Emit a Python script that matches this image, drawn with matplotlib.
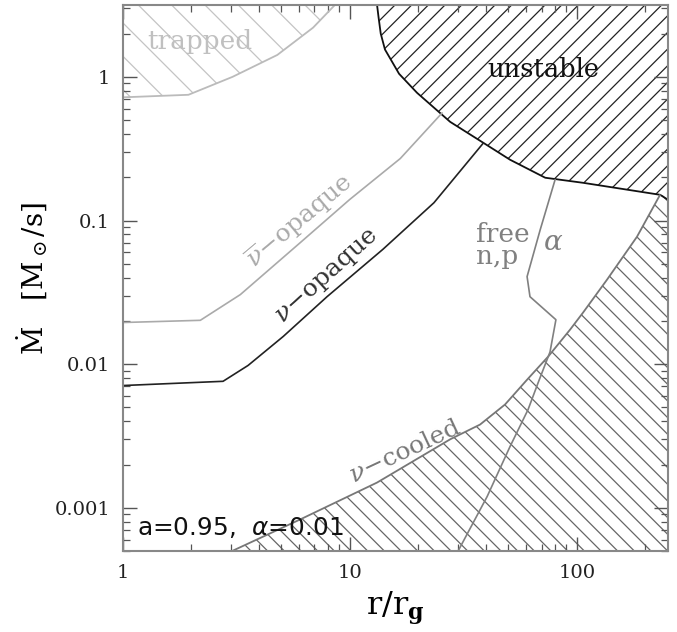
import numpy as np
import matplotlib.pyplot as plt
from matplotlib.ticker import LogLocator, NullFormatter, FixedLocator, FixedFormatter

plt.rcParams['font.family'] = 'DejaVu Serif'
plt.rcParams['mathtext.fontset'] = 'dejavuserif'
plt.rcParams['hatch.linewidth'] = 0.9

# Plot limits
rmin, rmax = 1.0, 252.0
mmin, mmax = 5.0e-4, 3.16

# Region boundaries, r/r_g versus accretion rate (Msun/s)
trap_r = [1.0, 1.95, 3.05, 4.8, 6.9, 8.6]
trap_mdot = [0.72, 0.75, 1.0, 1.42, 2.2, 3.16]

nubar_r = [1.0, 2.2, 3.3, 6.05, 10.0, 16.7, 25.5]
nubar_mdot = [0.0195, 0.0202, 0.0305, 0.070, 0.14, 0.27, 0.56]

nu_r = [1.0, 2.77, 3.57, 5.1, 7.95, 14.0, 23.5, 38.7]
nu_mdot = [0.0071, 0.0076, 0.0098, 0.0156, 0.0295, 0.063, 0.133, 0.345]

unst_r = [13.2, 13.4, 13.7, 14.3, 16.5, 19.8, 27.7, 38.7, 50.8, 72.6, 106.6, 232.7, 252.0]
unst_mdot = [3.16, 2.6, 2.0, 1.55, 1.05, 0.774, 0.486, 0.348, 0.265, 0.1985, 0.183, 0.151, 0.1395]

alpha_r = [80.2, 69.0, 60.4, 62.2, 80.9, 76.2, 67.6, 61.0, 50.8, 40.3, 30.0]
alpha_mdot = [0.192, 0.0863, 0.0407, 0.0295, 0.0204, 0.01216, 0.00745,
              0.00483, 0.00267, 0.0012, 5.0e-4]

cool_r = [3.03, 6.05, 13.2, 27.7, 37.5, 48.3, 60.4, 74.8, 93.4, 106.6, 135.9, 184.0, 232.0]
cool_mdot = [5.0e-4, 8.3e-4, 1.5e-3, 3.0e-3, 3.8e-3, 5.24e-3, 7.8e-3, 0.0113,
             0.0174, 0.0229, 0.0388, 0.0771, 0.15]

fig = plt.figure(figsize=(6.77, 6.32), dpi=100)
ax = fig.add_axes([0.181, 0.128, 0.8057, 0.864])
ax.set_xscale('log')
ax.set_yscale('log')
ax.set_xlim(rmin, rmax)
ax.set_ylim(mmin, mmax)

# trapped region (upper left)
ax.fill(trap_r + [rmin], trap_mdot + [mmax], facecolor='none',
        edgecolor='#c4c4c4', hatch='\\', linewidth=0)
ax.plot(trap_r, trap_mdot, color='#bbbbbb', lw=1.3)

# unstable region (upper right)
ax.fill(unst_r + [rmax], unst_mdot + [mmax], facecolor='none',
        edgecolor='#222222', hatch='//', linewidth=0)
ax.plot(unst_r, unst_mdot, color='#111111', lw=1.3)

# neutrino-cooled region (lower right)
ax.fill(cool_r + [rmax, rmax], cool_mdot + [cool_mdot[-1], mmin], facecolor='none',
        edgecolor='#666666', hatch='\\\\', linewidth=0)
ax.plot(cool_r, cool_mdot, color='#777777', lw=1.3)

ax.plot(nubar_r, nubar_mdot, color='#aaaaaa', lw=1.2)
ax.plot(nu_r, nu_mdot, color='#222222', lw=1.2)
ax.plot(alpha_r, alpha_mdot, color='#808080', lw=1.2)

# labels
ax.text(2.19, 1.75, 'trapped', color='#c0c0c0', fontsize=19, ha='center', va='center')
ax.text(71.0, 1.12, 'unstable', color='#111111', fontsize=18.5, ha='center', va='center')
ax.text(6.05, 0.098, r'$\overline{\nu}$' + '\u2212opaque', color='#aaaaaa', fontsize=18,
        ha='center', va='center', rotation=40, rotation_mode='anchor')
ax.text(7.95, 0.0407, r'$\nu$' + '\u2212opaque', color='#333333', fontsize=18,
        ha='center', va='center', rotation=42, rotation_mode='anchor')
ax.text(17.5, 0.00247, r'$\nu$' + '\u2212cooled', color='#777777', fontsize=18,
        ha='center', va='center', rotation=25, rotation_mode='anchor')
ax.text(36.0, 0.0668, 'free\nn,p', color='#808080', fontsize=19,
        ha='left', va='center', linespacing=0.85)
ax.text(78.7, 0.070, r'$\alpha$', color='#808080', fontsize=20, ha='center', va='center')
ax.text(1.159, 7.3e-4, r'a=0.95,  $\alpha$=0.01', family='DejaVu Sans', fontsize=17.8,
        color='#111111', ha='left', va='center', math_fontfamily='dejavusans')

# axes
ax.xaxis.set_major_locator(FixedLocator([1, 10, 100]))
ax.xaxis.set_major_formatter(FixedFormatter(['1', '10', '100']))
ax.yaxis.set_major_locator(FixedLocator([0.001, 0.01, 0.1, 1]))
ax.yaxis.set_major_formatter(FixedFormatter(['0.001', '0.01', '0.1', '1']))
ax.xaxis.set_minor_locator(LogLocator(base=10, subs=np.arange(2, 10)))
ax.yaxis.set_minor_locator(LogLocator(base=10, subs=np.arange(2, 10)))
ax.xaxis.set_minor_formatter(NullFormatter())
ax.yaxis.set_minor_formatter(NullFormatter())
ax.tick_params(which='both', direction='in', top=True, right=True, color='#555555',
               labelsize=14, labelcolor='#222222')
ax.tick_params(which='major', length=10, width=1.0, pad=9)
ax.tick_params(which='minor', length=5, width=0.9)
for sp in ax.spines.values():
    sp.set_color('#888888')
    sp.set_linewidth(1.5)

ax.set_xlabel(r'r/r$_{\mathbf{g}}$', fontsize=23, labelpad=6)
ax.set_ylabel(r'$\dot{\rm M}$   [M$_\odot$/s]', fontsize=20, labelpad=3)

fig.savefig('out.png', dpi=100)
